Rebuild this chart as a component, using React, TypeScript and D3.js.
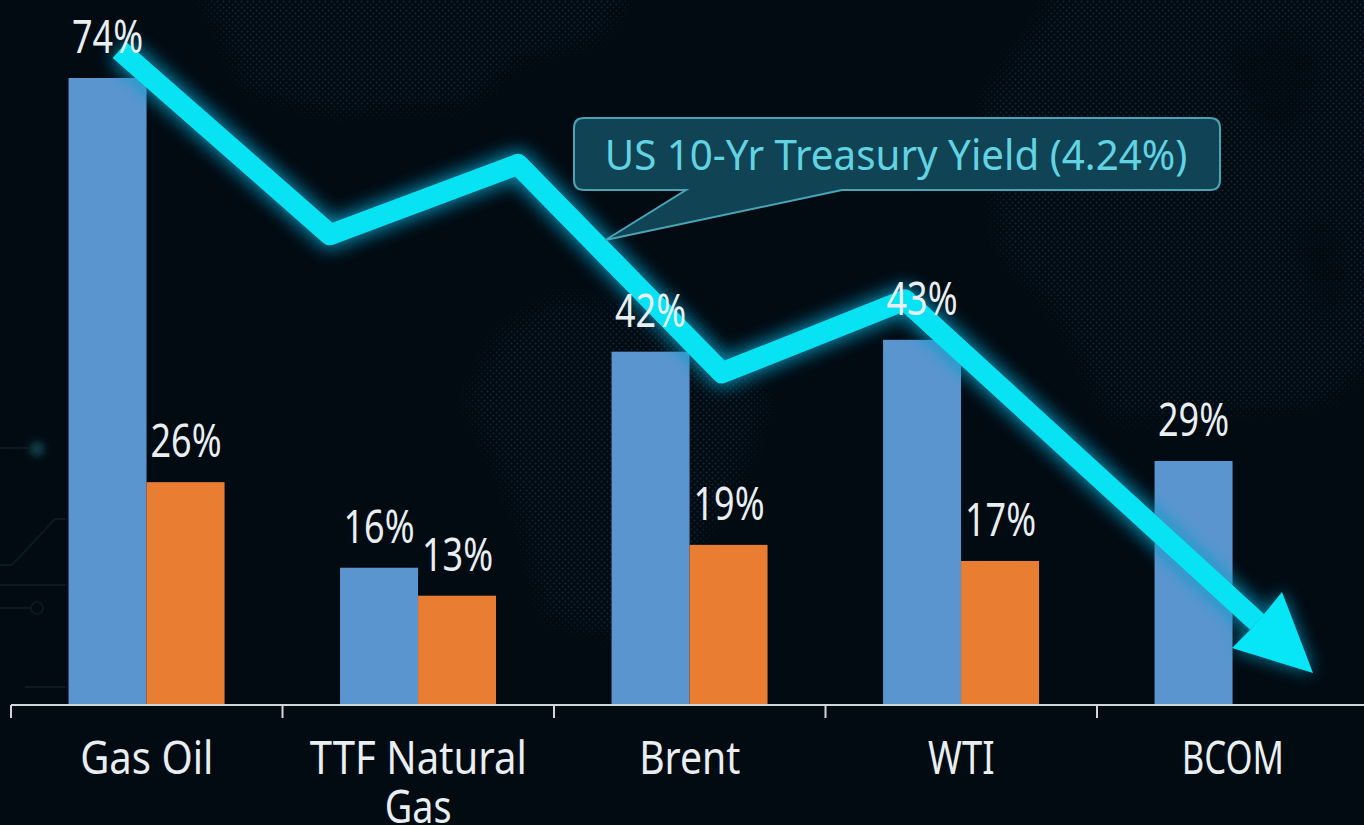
import React from "react";
import * as d3 from "d3";

const categories = ["Gas Oil", "TTF Natural Gas", "Brent", "WTI", "BCOM"];
const blueValues = [74, 16.2, 41.7, 43.1, 28.8];
const orangeValues: (number | null)[] = [26.3, 12.9, 18.9, 17, null];
const yieldPosition = [0.4, 1.175, 1.867, 2.619, 3.293, 4.59];
const yieldLevel = [77.3, 55.5, 63.8, 39.2, 47.8, 9.8];
const calloutText = "US 10-Yr Treasury Yield (4.24%)";

const W = 1364;
const H = 825;
const baseY = 705;
const FONT = "'Noto Sans', sans-serif";
const BARW = 78;
const tickStretch: Record<string, number> = {
  "Gas Oil": 0.89,
  "TTF Natural": 0.89,
  Gas: 0.84,
  Brent: 0.87,
  WTI: 0.81,
  BCOM: 0.77,
};

const y = d3.scaleLinear().domain([0, 74]).range([baseY, 78]);
const band = d3.scaleBand<string>().domain(categories).range([11, 1368.5]);
const sub = d3.scaleBand<string>().domain(["blue", "orange"]).range([0, 2 * BARW]);
const pos = d3.scaleLinear().domain([0, 5]).range([11, 1368.5]);
const barLeft = (c: string) => (band(c) as number) + (band.bandwidth() - 2 * BARW) / 2 - 0.2;

const linePts = yieldPosition.map((p, i) => [pos(p), y(yieldLevel[i])] as [number, number]);
const linePath = d3.line()(linePts) as string;
const arrowHead = "M1313,673 L1282,592 L1265,613 L1250,630 L1232,648 Z";

function Label({ x, yy, children, fill = "#e9eef1", size = 45, sx = 0.8 }: any) {
  return (
    <text
      transform={`translate(${x},${yy}) scale(${sx},1)`}
      textAnchor="middle"
      fontFamily={FONT}
      fontSize={size}
      fill={fill}
    >
      {children}
    </text>
  );
}

export default function App() {
  const step = band.step();
  return (
    <svg width={W} height={H} style={{ position: "absolute", left: 0, top: 0, background: "#020a12" }}>
      <defs>
        <pattern id="dots" width="6" height="6" patternUnits="userSpaceOnUse">
          <circle cx="1.5" cy="1.5" r="1" fill="#17323f" />
          <circle cx="4.5" cy="4.5" r="1" fill="#17323f" />
        </pattern>
        <filter id="glow" x="-20%" y="-20%" width="140%" height="140%">
          <feGaussianBlur stdDeviation="9" />
        </filter>
        <filter id="soft" x="-100%" y="-100%" width="300%" height="300%">
          <feGaussianBlur stdDeviation="4" />
        </filter>
        <filter id="edge" x="-10%" y="-10%" width="120%" height="120%">
          <feGaussianBlur stdDeviation="10" />
        </filter>
        <mask id="landMask" maskUnits="userSpaceOnUse" x="0" y="0" width={W} height={H}>
          <g filter="url(#edge)" fill="#fff">
            <path d="M195,-20 L640,-20 L600,40 L520,60 L470,105 L330,115 L245,90 Z" />
            <path d="M465,400 L500,330 L560,295 L690,320 L770,400 L740,480 L690,560 L630,640 L545,620 L520,520 Z" />
            <path d="M980,100 L1040,20 L1060,-20 L1384,-20 L1384,350 L1330,400 L1280,410 L1110,420 L1060,320 L1000,250 Z" />
          </g>
          <g filter="url(#edge)" fill="#000" opacity={0.6}>
            <path d="M1225,50 L1290,30 L1320,60 L1300,130 L1260,130 Z" />
            <path d="M1295,230 L1335,220 L1345,300 L1320,320 Z" />
          </g>
        </mask>
      </defs>

      <rect width={W} height={H} fill="url(#dots)" mask="url(#landMask)" opacity={0.8} />

      <g fill="none" stroke="#0b1a22" strokeWidth={2}>
        <path d="M0,448 L28,448" />
        <path d="M0,565 L12,565 L55,519 L66,519" />
        <path d="M0,585 L66,585" />
        <path d="M0,608 L31,608" />
        <circle cx={37} cy={608} r={6} />
        <path d="M25,687 L66,687" />
      </g>
      <circle cx={37} cy={449} r={7} fill="#124a55" filter="url(#soft)" />

      {categories.map((c, i) => {
        const left = barLeft(c);
        const o = orangeValues[i];
        return (
          <g key={c}>
            <rect x={left + (sub("blue") as number)} y={y(blueValues[i])} width={BARW} height={baseY - y(blueValues[i])} fill="#5b95d0" />
            {o !== null && (
              <rect x={left + (sub("orange") as number)} y={y(o)} width={BARW} height={baseY - y(o)} fill="#e97e33" />
            )}
          </g>
        );
      })}

      <g fill="none" stroke="#ccd6db" strokeWidth={2}>
        <path d={`M11,${baseY} H1364`} />
        {d3.range(0, 5).map((i) => (
          <path key={i} d={`M${pos(i)},${baseY} v13`} />
        ))}
      </g>

      {categories.map((c) => {
        const cx = (band(c) as number) + step / 2;
        const words = c === "TTF Natural Gas" ? ["TTF Natural", "Gas"] : [c];
        return words.map((w, k) => (
          <Label key={w} x={cx} yy={774 + k * 49} sx={tickStretch[w]}>{w}</Label>
        ));
      })}

      <g>
        <path d={linePath} fill="none" stroke="#0a9fc8" strokeWidth={28} strokeLinejoin="round" filter="url(#glow)" opacity={0.85} />
        <path d={arrowHead} fill="#0a9fc8" filter="url(#glow)" opacity={0.85} />
        <path d={linePath} fill="none" stroke="#07e3f2" strokeWidth={21} strokeLinejoin="round" />
        <path d={arrowHead} fill="#06e6f6" />
      </g>

      <path
        d="M584,118 H1210 Q1220,118 1220,128 V180 Q1220,190 1210,190 H842 L605.5,240 L686,190 H584 Q574,190 574,180 V128 Q574,118 584,118 Z"
        fill="#114759"
        fillOpacity={0.95}
        stroke="#48a5b6"
        strokeWidth={2}
      />
      <text
        transform="translate(896,170) scale(0.96,1)"
        textAnchor="middle"
        fontFamily={FONT}
        fontSize={42}
        fill="#62d3e3"
      >
        {calloutText}
      </text>

      {categories.map((c, i) => {
        const left = barLeft(c);
        const o = orangeValues[i];
        return (
          <g key={c + "t"}>
            <Label x={left + BARW / 2} yy={y(blueValues[i]) - 25}>{Math.round(blueValues[i])}%</Label>
            {o !== null && <Label x={left + BARW * 1.5 + 0.5} yy={y(o) - 25}>{Math.round(o)}%</Label>}
          </g>
        );
      })}
    </svg>
  );
}
